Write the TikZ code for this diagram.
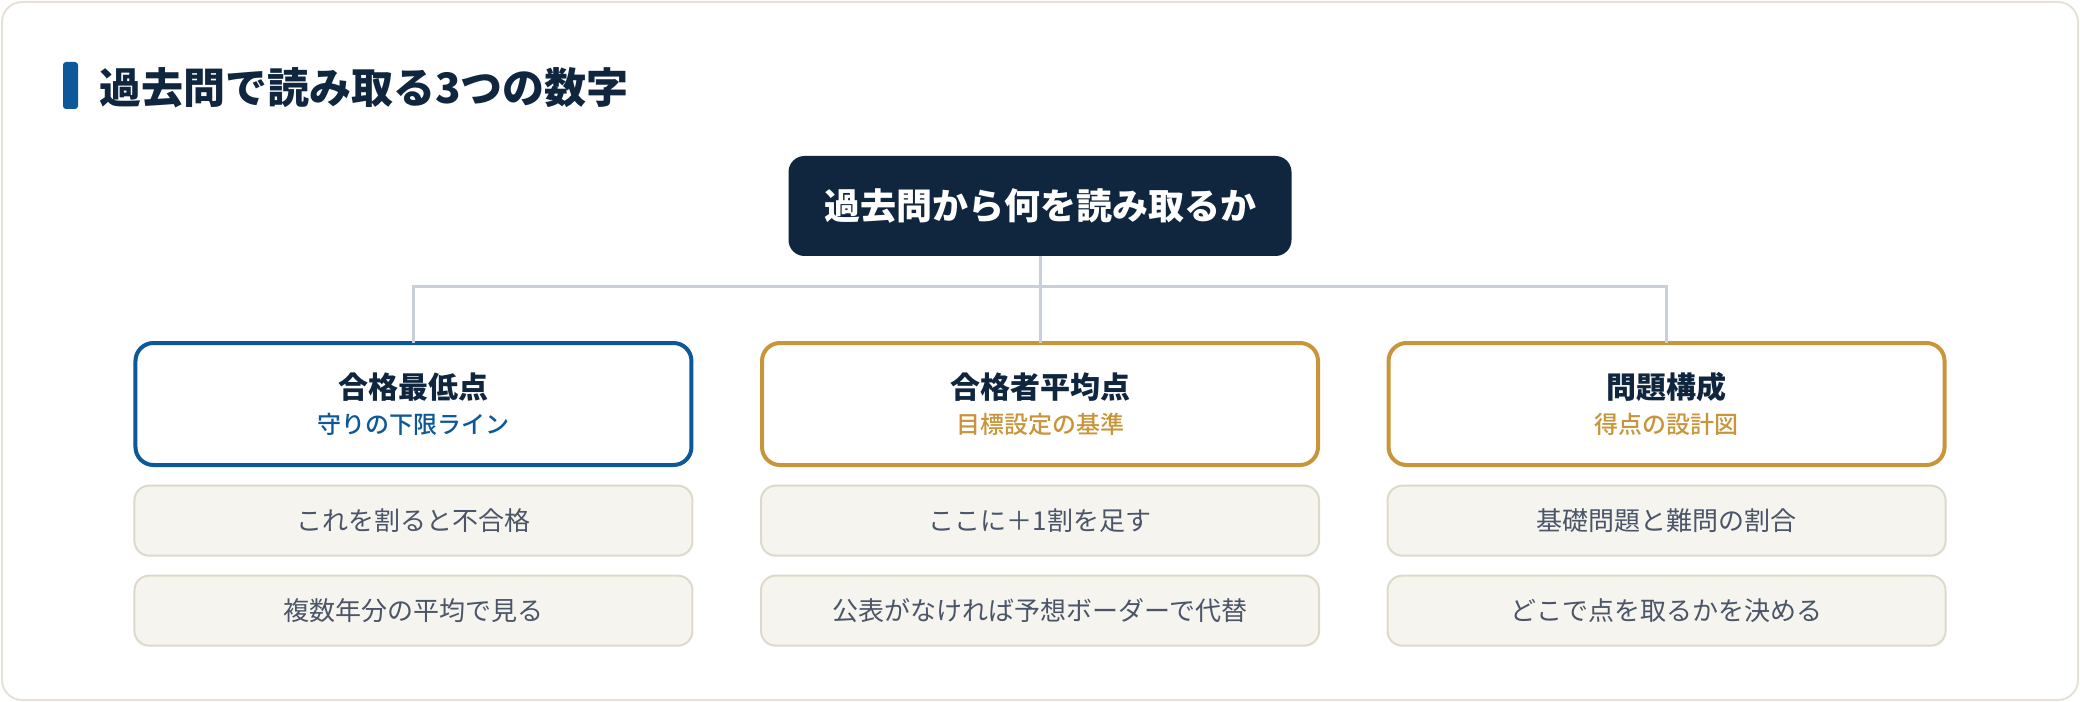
\documentclass[tikz,border=0pt]{standalone}
\usepackage{fontspec}
\setmainfont{Noto Sans CJK JP}
\newfontfamily\medfont{Noto Sans CJK JP Medium}
\usetikzlibrary{positioning}
\definecolor{navy}{HTML}{10263F}
\definecolor{blueline}{HTML}{0C5899}
\definecolor{goldline}{HTML}{C8953A}
\definecolor{linegray}{HTML}{C9CFD9}
\definecolor{itemfill}{HTML}{F6F4EE}
\definecolor{itemline}{HTML}{DEDACB}
\definecolor{itemtext}{HTML}{4A5568}
\definecolor{framegray}{HTML}{E6E3D6}
\newcommand\cardtitle[1]{{\fontsize{22.5pt}{26.25pt}\selectfont\bfseries\color{navy}#1}}
\tikzset{
  rootbox/.style={fill=navy, text=white, rounded corners=12pt, minimum width=377.25pt,
    minimum height=75pt, inner sep=0pt, outer sep=0pt,
    font=\fontsize{27pt}{32pt}\selectfont\bfseries},
  cardbox/.style={draw=#1, fill=white, line width=3pt, rounded corners=13.5pt,
    minimum width=417pt, minimum height=91.5pt, inner sep=0pt, outer sep=0pt,
    align=center, text=#1, font=\fontsize{18pt}{26.25pt}\selectfont\medfont},
  itembox/.style={draw=itemline, fill=itemfill, line width=1.5pt, rounded corners=11pt,
    minimum width=418.5pt, minimum height=52.5pt, inner sep=0pt, outer sep=0pt,
    text=itemtext, font=\fontsize{19.5pt}{24pt}\selectfont},
  titlebar/.style={fill=blueline, rounded corners=2.25pt, minimum width=11.25pt,
    minimum height=35.25pt, inner sep=0pt}
}
\begin{document}
\begin{tikzpicture}[x=0.75pt,y=-0.75pt,
    level 1/.style={sibling distance=469.9pt, level distance=148.5pt},
    edge from parent/.style={draw=linegray, line width=2.25pt},
    edge from parent path={(\tikzparentnode.south) -- ++(0,-22.5pt) -| (\tikzchildnode.north)}]
  \useasboundingbox (0,0) rectangle (2080,702);
  \draw[framegray, fill=white, line width=1.5pt, rounded corners=15pt] (2,2) rectangle (2078,700);
  \node[titlebar] (bar) at (70.5,85.5) {};
  \node[anchor=west, inner sep=0pt, text=navy, font=\fontsize{31.5pt}{36pt}\selectfont\bfseries]
    (title) at (99,88) {過去問で読み取る3つの数字};
  \node[rootbox] (root) at (1040,206) {過去問から何を読み取るか}
    child {
      node[cardbox=blueline] (low) {\cardtitle{合格最低点}\\守りの下限ライン}
    }
    child {
      node[cardbox=goldline] (avg) {\cardtitle{合格者平均点}\\目標設定の基準}
    }
    child {
      node[cardbox=goldline] (comp) {\cardtitle{問題構成}\\得点の設計図}
    };
  \node[itembox, below=15.5pt of low] (low1) {これを割ると不合格};
  \node[itembox, below=15pt of low1] (low2) {複数年分の平均で見る};
  \node[itembox, below=15.5pt of avg] (avg1) {ここに＋1割を足す};
  \node[itembox, below=15pt of avg1] (avg2) {公表がなければ予想ボーダーで代替};
  \node[itembox, below=15.5pt of comp] (comp1) {基礎問題と難問の割合};
  \node[itembox, below=15pt of comp1] (comp2) {どこで点を取るかを決める};
\end{tikzpicture}
\end{document}
